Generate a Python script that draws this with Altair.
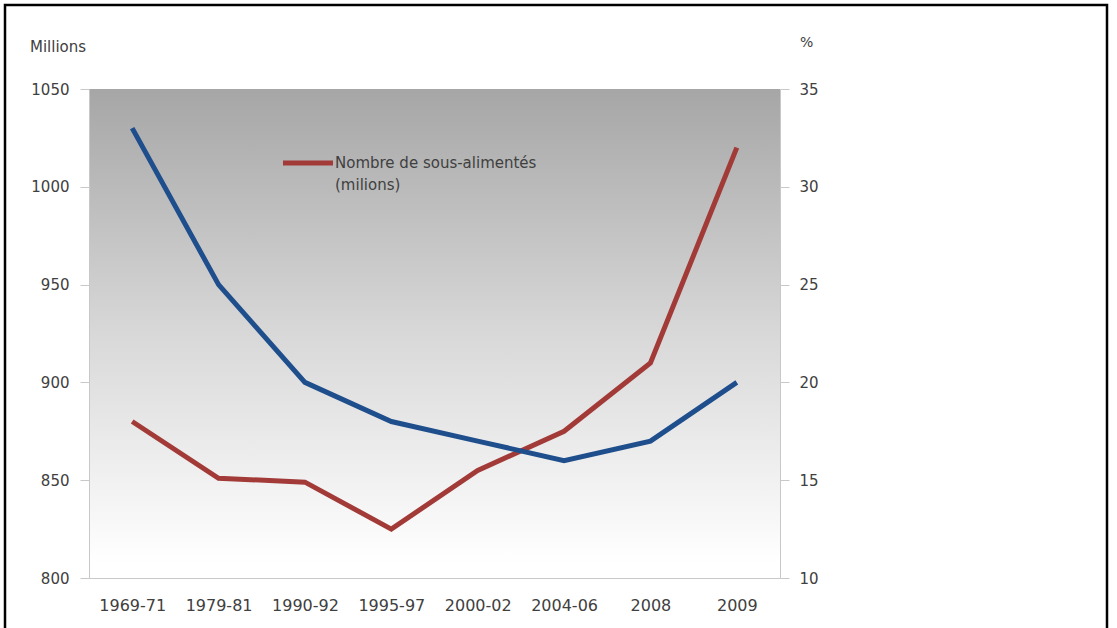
import altair as alt
import pandas as pd

periods = ["1969-71", "1979-81", "1990-92", "1995-97", "2000-02", "2004-06", "2008", "2009"]
undernourished_millions = [880, 851, 849, 825, 855, 875, 910, 1020]
undernourished_pct = [33, 25, 20, 18, 17, 16, 17, 20]
left_ticks = [800, 850, 900, 950, 1000, 1050]
right_ticks = [10, 15, 20, 25, 30, 35]
legend_lines = ["Nombre de sous-alimentés", "(milions)"]

df = pd.DataFrame({"period": periods, "millions": undernourished_millions, "pct": undernourished_pct})

W, H = 691, 489
FONT = "DejaVu Sans"
TXT = "#404040"
AX = "#c8c8c8"

one = pd.DataFrame({"a": [0]})

bg = alt.Chart(one).mark_rect(
    fill=alt.Gradient(
        gradient="linear",
        stops=[alt.GradientStop(color="#a6a6a6", offset=0),
               alt.GradientStop(color="#d8d8d8", offset=0.5),
               alt.GradientStop(color="#ffffff", offset=0.97)],
        x1=0, x2=0, y1=0, y2=1,
    )
).encode(x=alt.value(0), x2=alt.value(W), y=alt.value(0), y2=alt.value(H))

xenc = alt.X("period:N", sort=periods, title=None,
             axis=alt.Axis(labelAngle=0, ticks=False, domain=True, domainColor=AX,
                           labelFont=FONT, labelFontSize=16, labelColor=TXT,
                           labelPadding=19, grid=False, zindex=1))

red = alt.Chart(df).mark_line(color="#a23b38", strokeWidth=5).encode(
    x=xenc,
    y=alt.Y("millions:Q", title=None,
            scale=alt.Scale(domain=[800, 1050], nice=False, zero=False),
            axis=alt.Axis(orient="left", values=left_ticks, grid=False, format="d",
                          domainColor=AX, tickColor=AX, tickSize=9, zindex=1,
                          labelFont=FONT, labelFontSize=15, labelColor=TXT,
                          labelPadding=11)),
)

blue = alt.Chart(df).mark_line(color="#1f4e8c", strokeWidth=5).encode(
    x=xenc,
    y=alt.Y("pct:Q", title=None,
            scale=alt.Scale(domain=[10, 35], nice=False, zero=False),
            axis=alt.Axis(orient="right", values=right_ticks, grid=False, format="d",
                          domainColor=AX, tickColor=AX, tickSize=9, zindex=1,
                          labelFont=FONT, labelFontSize=15, labelColor=TXT,
                          labelPadding=10)),
)

t_millions = alt.Chart(one).mark_text(text="Millions", font=FONT, fontSize=15, color=TXT,
                                       align="left", baseline="middle").encode(
    x=alt.value(-59), y=alt.value(-42))
t_pct = alt.Chart(one).mark_text(text="%", font=FONT, fontSize=14, color=TXT,
                                  align="left", baseline="middle").encode(
    x=alt.value(711), y=alt.value(-46))

leg_line = alt.Chart(one).mark_rule(color="#a23b38", strokeWidth=5).encode(
    x=alt.value(194), x2=alt.value(244), y=alt.value(74))
leg_t1 = alt.Chart(one).mark_text(text=legend_lines[0], font=FONT, fontSize=15, color=TXT,
                                   align="left", baseline="middle").encode(
    x=alt.value(246), y=alt.value(74))
leg_t2 = alt.Chart(one).mark_text(text=legend_lines[1], font=FONT, fontSize=15, color=TXT,
                                   align="left", baseline="middle").encode(
    x=alt.value(246), y=alt.value(96))

frame = alt.Chart(one).mark_rect(filled=False, stroke="black", strokeWidth=2.5).encode(
    x=alt.value(-84), x2=alt.value(1018), y=alt.value(-84), y2=alt.value(620))

chart = alt.layer(bg, red, blue, t_millions, t_pct, leg_line, leg_t1, leg_t2, frame).resolve_scale(
    y="independent"
).properties(
    width=W, height=H,
    autosize=alt.AutoSizeParams(type="none"),
    padding={"left": 89, "top": 89, "right": 337, "bottom": 50},
    background="white",
).configure_view(stroke=None)

chart.save("out.html", embed_options={"renderer": "svg", "actions": False})
